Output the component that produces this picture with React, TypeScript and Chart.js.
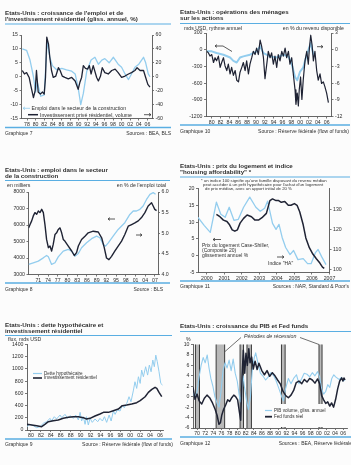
import React, { useEffect, useRef } from "react";
import { Chart, registerables } from "chart.js";

Chart.register(...registerables);

const PAGE_W = 351;
const PAGE_H = 465;
const FONT = '"Liberation Sans", Arial, Helvetica, sans-serif';
const DARK = "#1f2334";
const LIGHT = "#93cdee";
const RULE = "#5aaee2";
const AXIS = "#555555";
const INK = "#2f2f2f";
const TICK_FONT = 5.2;

// ---------------- Graphique 7 : emploi construction / investissement résidentiel ----------------
const g7TickYears = [1978, 1980, 1982, 1984, 1986, 1988, 1990, 1992, 1994, 1996, 1998, 2000, 2002, 2004, 2006];
const g7TickLabels = ["78", "80", "82", "84", "86", "88", "90", "92", "94", "96", "98", "00", "02", "04", "06"];
const g7LeftTicks = [-15, -10, -5, 0, 5, 10, 15];
const g7RightTicks = [-60, -40, -20, 0, 20, 40, 60];
const g7EmpYears = [1976.9, 1977.9, 1978.7, 1979.5, 1980.0, 1980.4, 1981.2, 1982.0, 1982.7, 1983.3, 1983.9, 1984.9, 1986.1, 1987.2, 1988.4, 1989.2, 1989.9, 1990.5, 1991.1, 1991.9, 1992.9, 1993.8, 1994.6, 1995.4, 1996.1, 1997.1, 1998.1, 1999.2, 2000.0, 2000.8, 2001.6, 2002.3, 2003.1, 2004.0, 2005.1, 2005.6, 2006.2, 2006.6];
const g7EmpValues = [10, 9.5, 6, 0, -5.5, -2, -7, -6.5, 13, 7, 4, 2.5, 3, 2.5, 2, 1, -4, -10, -6, 2, 6, 7, 4.5, 6, 6.5, 5, 7, 4.5, 3.4, 1, -1, 1, 3.4, 4.5, 7, 5, 1, 0];
const g7InvYears = [1976.9, 1977.4, 1977.9, 1978.5, 1978.9, 1979.5, 1979.9, 1980.2, 1980.6, 1981.1, 1981.6, 1982.0, 1982.3, 1982.6, 1983.0, 1983.3, 1983.7, 1984.1, 1984.7, 1985.3, 1985.7, 1986.2, 1986.8, 1987.6, 1988.4, 1989.2, 1989.9, 1990.3, 1990.7, 1991.1, 1991.6, 1992.1, 1992.5, 1992.9, 1993.4, 1994.2, 1994.6, 1995.1, 1995.5, 1996.1, 1996.9, 1997.7, 1998.5, 1999.2, 2000.0, 2000.8, 2001.6, 2002.3, 2003.1, 2003.6, 2004.3, 2005.1, 2005.6, 2006.1, 2006.6];
const g7InvValues = [9, 4, 6, -1, -13, -30, -20, 9, -22, -25, -22, -25, -1, 57, 47, 28, 9, -1, 1, 13, 9, 1, -1, -3, -1, -6, -18, -8, -1, 16, 12, 11, 16, 4, 16, -1, -6, 1, 13, 6, 4, 9, 11, 6, -1, 1, 4, 6, 9, 13, 9, 9, -1, -11, -15];

// ---------------- Graphique 10 : opérations des ménages sur les actions ----------------
const g10TickYears = [1980, 1982, 1984, 1986, 1988, 1990, 1992, 1994, 1996, 1998, 2000, 2002, 2004, 2006];
const g10TickLabels = ["80", "82", "84", "86", "88", "90", "92", "94", "96", "98", "00", "02", "04", "06"];
const g10LeftTicks = [-1200, -900, -600, -300, 0, 300];
const g10RightTicks = [-12, -9, -6, -3, 0, 3];
const g10FlowYears = [
  1978.9, 1979.25, 1979.6, 1980.0, 1980.4, 1980.75, 1981.1, 1981.5, 1981.9, 1982.25,
  1982.65, 1983.0, 1983.4, 1983.75, 1984.15, 1984.5, 1984.9, 1985.3, 1985.65, 1986.05,
  1986.4, 1986.8, 1987.15, 1987.55, 1987.9, 1988.3, 1988.65, 1989.05, 1989.4, 1989.8,
  1990.15, 1990.55, 1990.95, 1991.3, 1991.7, 1992.05, 1992.45, 1992.8, 1993.2, 1993.55,
  1993.95, 1994.3, 1994.7, 1995.05, 1995.45, 1995.85, 1996.2, 1996.6, 1996.95, 1997.35,
  1997.7, 1998.1, 1998.45, 1998.85, 1999.05, 1999.35, 1999.6, 1999.8, 2000.1, 2000.4,
  2000.7, 2001.1, 2001.5, 2001.85, 2002.1, 2002.4, 2002.7, 2003.0, 2003.35, 2003.75,
  2004.1, 2004.5, 2004.85, 2005.25, 2005.6, 2006.0, 2006.4,
];
const g10FlowValues = [
  -29, -58, -115, -87, -230, -144, -200, -115, -317, -230,
  -144, -288, -375, -260, -433, -317, -460, -375, -548, -577,
  -404, -317, -230, -375, -200, -433, -260, -144, -29, -87,
  29, -87, 173, 58, -144, -519, -260, -29, -144, -58,
  -260, -115, -317, -87, -200, -29, -115, 29, -144, -29,
  -260, -144, -433, -721, -981, -779, -1010, -721, -490, -894,
  -548, -200, -29, -260, 29, 260, 87, -200, -29, -375,
  -548, -433, -606, -577, -664, -779, -952,
];
const g10RatioYears = [1978.9, 1980.0, 1981.1, 1982.65, 1984.15, 1984.9, 1985.65, 1986.4, 1987.15, 1988.65, 1990.15, 1990.95, 1991.7, 1993.2, 1994.7, 1996.2, 1997.35, 1998.1, 1998.85, 1999.35, 1999.95, 2000.7, 2001.5, 2002.4, 2003.0];
const g10RatioValues = [-0.3, -0.3, -0.6, -0.9, -1.4, -2.0, -2.3, -1.4, -1.2, -0.9, -0.3, 0.6, -0.6, -1.2, -1.4, -0.9, -1.2, -2.6, -4.9, -5.5, -4.0, -3.2, -0.9, 1.2, -0.9];

// ---------------- Graphique 8 : emploi dans la construction ----------------
const g8TickYears = [1971, 1974, 1977, 1980, 1983, 1986, 1989, 1992, 1995, 1998, 2001, 2004, 2007];
const g8TickLabels = ["71", "74", "77", "80", "83", "86", "89", "92", "95", "98", "01", "04", "07"];
const g8LeftTicks = [3000, 4000, 5000, 6000, 7000, 8000];
const g8RightTicks = [4.0, 4.5, 5.0, 5.5, 6.0];
const g8LevelYears = [1968.0, 1969.45, 1971.0, 1972.55, 1973.55, 1974.1, 1975.1, 1976.15, 1977.15, 1978.7, 1980.25, 1981.3, 1982.3, 1983.35, 1984.35, 1985.9, 1987.45, 1989.0, 1990.0, 1991.05, 1991.75, 1992.6, 1994.1, 1995.65, 1997.7, 1999.25, 2000.3, 2001.3, 2002.35, 2003.35, 2004.4, 2005.45, 2006.45, 2007.2];
const g8LevelValues = [3610, 3710, 3810, 4010, 4150, 4070, 3610, 3710, 4070, 4420, 4520, 4420, 4110, 4270, 4620, 4920, 5170, 5330, 5230, 4820, 4720, 4920, 5330, 5730, 6140, 6640, 6850, 6850, 6950, 7150, 7550, 7860, 7960, 7860];
const g8ShareYears = [1968.0, 1968.45, 1968.95, 1969.45, 1969.95, 1970.5, 1971.0, 1971.5, 1972.05, 1972.55, 1973.05, 1973.55, 1974.1, 1974.6, 1975.1, 1975.6, 1976.15, 1976.65, 1977.15, 1977.7, 1978.2, 1978.7, 1979.2, 1980.25, 1981.3, 1982.1, 1982.8, 1983.35, 1984.35, 1985.4, 1986.4, 1987.95, 1989.5, 1990.55, 1991.35, 1992.05, 1992.8, 1993.6, 1994.65, 1995.65, 1996.7, 1997.7, 1998.75, 1999.8, 2000.8, 2001.85, 2002.85, 2003.9, 2004.9, 2005.95, 2006.45, 2006.95, 2007.5];
const g8ShareValues = [5.13, 5.21, 5.30, 5.42, 5.50, 5.46, 5.54, 5.50, 5.58, 5.50, 5.21, 4.85, 4.65, 4.69, 4.57, 4.73, 4.97, 5.01, 5.09, 5.13, 5.01, 4.85, 4.81, 4.69, 4.57, 4.46, 4.53, 4.69, 4.85, 4.93, 5.01, 5.05, 5.03, 4.89, 4.65, 4.40, 4.36, 4.44, 4.57, 4.69, 4.81, 4.97, 5.17, 5.21, 5.25, 5.30, 5.38, 5.50, 5.66, 5.74, 5.66, 5.58, 5.55];

// ---------------- Graphique 11 : prix du logement et indice HA ----------------
const g11TickYears = [2000.5, 2001.5, 2002.5, 2003.5, 2004.5, 2005.5, 2006.5, 2007.5];
const g11TickLabels = ["2000", "2001", "2002", "2003", "2004", "2005", "2006", "2007"];
const g11LeftTicks = [-5, 0, 5, 10, 15, 20];
const g11RightTicks = [100, 110, 120, 130];
const g11PriceYears = [2001.05, 2001.25, 2001.45, 2001.65, 2001.8, 2001.95, 2002.1, 2002.25, 2002.4, 2002.6, 2002.8, 2003.05, 2003.25, 2003.45, 2003.65, 2003.9, 2004.1, 2004.25, 2004.45, 2004.6, 2004.75, 2004.95, 2005.15, 2005.3, 2005.5, 2005.65, 2005.8, 2006.0, 2006.15, 2006.35, 2006.55, 2006.75, 2006.95, 2007.1, 2007.2];
const g11PriceValues = [12.3, 11.6, 10.6, 10.2, 9.2, 7.7, 7.3, 7.7, 9.7, 11.1, 12.1, 11.6, 10.6, 10.6, 11.3, 12.6, 16.4, 16.9, 16.4, 16.4, 15.9, 16.1, 15.0, 15.0, 15.5, 15.0, 13.1, 9.2, 5.3, 2.4, 0.5, -0.9, -2.2, -3.4, -3.8];
const g11HaiYears = [2000.0, 2000.35, 2000.7, 2001.05, 2001.3, 2001.55, 2001.78, 2002.05, 2002.3, 2002.6, 2002.95, 2003.3, 2003.55, 2003.8, 2003.97, 2004.25, 2004.45, 2004.62, 2004.8, 2005.0, 2005.25, 2005.45, 2005.7, 2006.0, 2006.25, 2006.45, 2006.7, 2006.85, 2007.05, 2007.3];
const g11HaiValues = [126, 122, 118.5, 133.5, 127.5, 126, 131, 124.5, 125, 131, 136, 131, 129, 130.5, 134, 123, 120, 122.5, 116, 111, 107.5, 109.5, 105, 105.5, 103, 103, 108.5, 110, 106.5, 102.5];

// ---------------- Graphique 9 : dette hypothécaire et investissement résidentiel ----------------
const g9TickYears = [1980, 1982, 1984, 1986, 1988, 1990, 1992, 1994, 1996, 1998, 2000, 2002, 2004, 2006];
const g9TickLabels = ["80", "82", "84", "86", "88", "90", "92", "94", "96", "98", "00", "02", "04", "06"];
const g9Ticks = [0, 200, 400, 600, 800, 1000, 1200, 1400];
const g9InvYears = [1979.2, 1980.15, 1981.15, 1982.15, 1982.8, 1983.5, 1984.5, 1985.5, 1986.5, 1987.55, 1988.55, 1989.55, 1990.55, 1991.2, 1991.9, 1992.9, 1993.9, 1994.6, 1995.6, 1996.6, 1997.6, 1998.4, 1999.3, 2000.3, 2001.3, 2002.0, 2003.0, 2003.65, 2004.35, 2005.0, 2005.35, 2005.8, 2006.35];
const g9InvValues = [93, 82, 71, 55, 93, 136, 153, 164, 191, 207, 218, 218, 202, 180, 191, 229, 262, 289, 289, 316, 343, 398, 409, 425, 447, 480, 545, 616, 665, 698, 681, 616, 545];
const g9DebtYears = [
  1979.2, 1979.8, 1980.45, 1981.15, 1981.8, 1982.5, 1983.15, 1983.85, 1984.15, 1984.7,
  1985.15, 1985.85, 1986.2, 1986.85, 1987.4, 1987.85, 1988.55, 1989.0, 1989.55, 1989.9,
  1990.2, 1990.55, 1990.9, 1991.2, 1991.55, 1991.9, 1992.35, 1992.9, 1993.45, 1993.9,
  1994.4, 1994.8, 1995.25, 1995.75, 1996.15, 1996.6, 1996.95, 1997.4, 1997.95, 1998.4,
  1998.8, 1999.3, 1999.75, 2000.15, 2000.65, 2000.95, 2001.3, 2001.65, 2002.0, 2002.3,
  2002.65, 2003.1, 2003.5, 2003.85, 2004.2, 2004.55, 2004.85, 2005.15, 2005.45, 2005.8,
  2006.15, 2006.5,
];
const g9DebtValues = [
  55, 93, 71, 38, 55, 109, 136, 191, 147, 218,
  180, 245, 202, 256, 191, 234, 191, 245, 164, 289,
  147, 218, 93, 218, 82, 191, 125, 180, 136, 191,
  147, 218, 125, 245, 147, 311, 256, 327, 311, 409,
  365, 436, 545, 463, 654, 790, 681, 872, 763, 981,
  872, 1036, 899, 1063, 954, 1145, 1036, 1226, 1117, 954,
  763, 736,
];

// ---------------- Graphique 12 : PIB et Fed funds ----------------
const g12TickYears = [1970, 1972, 1974, 1976, 1978, 1980, 1982, 1984, 1986, 1988, 1990, 1992, 1994, 1996, 1998, 2000, 2002, 2004, 2006];
const g12TickLabels = ["70", "72", "74", "76", "78", "80", "82", "84", "86", "88", "90", "92", "94", "96", "98", "00", "02", "04", "06"];
const g12Ticks = [-6, -4, -2, 0, 2, 4, 6, 8, 10];
const g12RecStart = [1969.6, 1974.7, 1980.6, 1982.3, 1990.8, 2000.05];
const g12RecEnd = [1970.6, 1976.8, 1981.45, 1983.4, 1991.7, 2000.8];
const g12FedYears = [
  1969.0, 1969.5, 1970.0, 1970.5, 1971.15, 1971.8, 1972.45, 1973.1, 1973.8, 1974.45,
  1974.95, 1975.4, 1975.75, 1976.1, 1976.55, 1977.05, 1977.55, 1978.05, 1978.55, 1979.05,
  1979.5, 1980.0, 1980.45, 1980.75, 1981.1, 1981.4, 1981.75, 1982.05, 1982.4, 1982.75,
  1983.05, 1983.45, 1983.85, 1984.3, 1984.8, 1985.25, 1985.95, 1986.6, 1987.25, 1987.9,
  1988.55, 1989.2, 1989.85, 1990.55, 1991.2, 1991.85, 1992.5, 1993.15, 1993.8, 1994.45,
  1995.1, 1995.8, 1996.45, 1997.1, 1997.75, 1998.4, 1999.05, 1999.7, 2000.2, 2000.7,
  2001.2, 2001.7, 2002.2, 2002.7, 2003.15, 2003.65, 2004.15, 2004.65, 2005.15, 2005.65,
  2005.95, 2006.2, 2006.45,
];
const g12FedValues = [
  1.8, -0.5, 0.5, -0.8, -1.4, -0.3, 0.3, -0.2, -1.2, -2.4,
  -3.6, -5.3, -5.0, -3.5, -2.4, -1.6, -0.6, -0.9, -0.2, 0.3,
  0.0, -0.6, -3.0, -4.5, 4.0, 8.9, 4.5, 8.3, 6.0, 9.2,
  6.5, 7.6, 5.3, 6.8, 5.2, 6.4, 5.0, 4.2, 5.0, 3.9,
  4.6, 4.0, 3.2, 2.4, 1.0, 0.2, -0.2, 0.3, 1.2, 2.7,
  3.0, 2.5, 3.3, 2.8, 3.5, 3.2, 2.6, 3.4, 2.5, 0.2,
  -0.6, -1.3, -1.0, -1.8, -1.2, -2.0, -0.5, 1.5, 3.0, 3.6,
  3.0, 3.6, 3.2,
];
const g12GdpYears = [
  1969.0, 1969.5, 1970.0, 1970.5, 1971.0, 1971.5, 1972.0, 1972.5, 1972.95, 1973.4,
  1973.9, 1974.4, 1974.9, 1975.4, 1975.9, 1976.4, 1976.9, 1977.4, 1977.9, 1978.4,
  1978.9, 1979.4, 1979.9, 1980.35, 1980.7, 1981.0, 1981.35, 1981.65, 1982.15, 1982.65,
  1983.15, 1983.6, 1984.1, 1984.45, 1984.9, 1985.6, 1986.2, 1986.9, 1987.55, 1988.2,
  1988.9, 1989.5, 1990.2, 1990.85, 1991.3, 1991.8, 1992.5, 1993.15, 1993.8, 1994.5,
  1995.1, 1995.8, 1996.4, 1997.1, 1997.75, 1998.4, 1999.05, 1999.7, 2000.2, 2000.7,
  2001.2, 2001.7, 2002.2, 2002.7, 2003.2, 2003.7, 2004.15, 2004.65, 2005.1, 2005.6,
  2006.0, 2006.45,
];
const g12GdpValues = [
  1.0, -0.3, 1.0, 3.8, 6.0, 7.5, 6.5, 8.0, 5.5, 3.5,
  2.0, 0.0, -1.2, -2.0, 1.0, 5.0, 6.5, 5.5, 7.0, 5.0,
  7.2, 4.5, 3.0, 0.5, -1.0, 1.5, 4.0, 2.0, -0.5, -2.5,
  0.0, 5.0, 7.5, 8.4, 6.8, 4.5, 4.0, 3.2, 3.8, 4.6,
  4.0, 3.0, 1.5, 0.0, -0.8, 1.5, 3.5, 2.5, 3.5, 4.2,
  2.5, 3.5, 4.5, 4.3, 3.8, 4.6, 4.0, 4.8, 3.8, 1.5,
  0.5, 1.0, 2.3, 1.8, 3.5, 4.2, 3.8, 3.5, 3.3, 3.7,
  3.0, 3.3,
];

// ---------------- helpers ----------------
function series(xs: number[], ys: number[], color: string, width: number, yAxisID: string) {
  return {
    type: "line",
    data: xs.map((x, i) => ({ x, y: ys[i] })),
    borderColor: color,
    backgroundColor: color,
    borderWidth: width,
    pointRadius: 0,
    pointHoverRadius: 0,
    fill: false,
    tension: 0,
    xAxisID: "x",
    yAxisID,
    borderJoinStyle: "round",
  };
}

const tickFont = { family: FONT, size: TICK_FONT };
const axisGrid = { display: true, drawOnChartArea: false, drawTicks: true, tickLength: 2, color: AXIS, lineWidth: 0.8 };
const axisBorder = { display: true, color: AXIS, width: 0.9 };

function xScale(min: number, max: number, at: number[], labels: string[], height: number) {
  return {
    type: "linear",
    position: "bottom",
    min,
    max,
    afterBuildTicks: (s: any) => {
      s.ticks = at.map((v) => ({ value: v }));
    },
    afterFit: (s: any) => {
      s.height = height;
    },
    ticks: {
      autoSkip: false,
      maxRotation: 0,
      minRotation: 0,
      padding: 0.5,
      font: tickFont,
      color: INK,
      callback: (_v: any, i: number) => labels[i],
    },
    grid: axisGrid,
    border: axisBorder,
  };
}

function yScale(position: string, min: number, max: number, at: number[], width: number, fmt?: (v: number) => string) {
  return {
    type: "linear",
    position,
    min,
    max,
    afterBuildTicks: (s: any) => {
      s.ticks = at.map((v) => ({ value: v }));
    },
    afterFit: (s: any) => {
      s.width = width;
    },
    ticks: {
      autoSkip: false,
      padding: 1.5,
      font: tickFont,
      color: INK,
      callback: (v: number) => (fmt ? fmt(v) : String(v)),
    },
    grid: axisGrid,
    border: axisBorder,
  };
}

function options(padding: any, scales: any) {
  return {
    responsive: false,
    maintainAspectRatio: false,
    animation: false,
    devicePixelRatio: 1,
    events: [],
    layout: { padding },
    plugins: { legend: { display: false }, tooltip: { enabled: false }, title: { display: false } },
    scales,
  };
}

const buildG7 = () => ({
  type: "line",
  data: {
    datasets: [
      series(g7InvYears, g7InvValues, DARK, 1.3, "y2"),
      series(g7EmpYears, g7EmpValues, LIGHT, 1.3, "y"),
    ],
  },
  options: options({ left: 0, right: 0, top: 7, bottom: 4.5 }, {
    x: xScale(1976.72, 2007.07, g7TickYears, g7TickLabels, 9),
    y: yScale("left", -15, 15, g7LeftTicks, 21.5),
    y2: yScale("right", -60, 60, g7RightTicks, 23),
  }),
});

const buildG10 = () => ({
  type: "line",
  data: {
    datasets: [
      series(g10FlowYears, g10FlowValues, DARK, 1.2, "y"),
      series(g10RatioYears, g10RatioValues, LIGHT, 2, "y2"),
    ],
  },
  options: options({ left: 0, right: 0, top: 7, bottom: 3.5 }, {
    x: xScale(1978.7, 2007.1, g10TickYears, g10TickLabels, 8),
    y: yScale("left", -1200, 300, g10LeftTicks, 30),
    y2: yScale("right", -12, 3, g10RightTicks, 19.5),
  }),
});

const buildG8 = () => ({
  type: "line",
  data: {
    datasets: [
      series(g8ShareYears, g8ShareValues, DARK, 1.4, "y2"),
      series(g8LevelYears, g8LevelValues, LIGHT, 1.3, "y"),
    ],
  },
  options: options({ left: 0, right: 0, top: 7, bottom: 1.5 }, {
    x: xScale(1967.97, 2007.94, g8TickYears, g8TickLabels, 8),
    y: yScale("left", 3000, 8000, g8LeftTicks, 28.5),
    y2: yScale("right", 4, 6, g8RightTicks, 17, (v) => v.toFixed(1)),
  }),
});

const buildG11 = () => ({
  type: "line",
  data: {
    datasets: [
      series(g11PriceYears, g11PriceValues, DARK, 1.5, "y"),
      series(g11HaiYears, g11HaiValues, LIGHT, 1.3, "y2"),
    ],
  },
  options: options({ left: 0, right: 0, top: 6.5, bottom: 1.5 }, {
    x: xScale(2000, 2007.5, g11TickYears, g11TickLabels, 8),
    y: yScale("left", -5, 20, g11LeftTicks, 22),
    y2: yScale("right", 98.6, 140.3, g11RightTicks, 21.5),
  }),
});

const buildG9 = () => ({
  type: "line",
  data: {
    datasets: [
      series(g9InvYears, g9InvValues, DARK, 1.5, "y"),
      series(g9DebtYears, g9DebtValues, LIGHT, 1, "y"),
    ],
  },
  options: options({ left: 0, right: 12, top: 6.5, bottom: 2 }, {
    x: xScale(1979.2, 2006.6, g9TickYears, g9TickLabels, 8),
    y: yScale("left", 0, 1400, g9Ticks, 27),
  }),
});

const recessionPlugin = {
  id: "recessions",
  beforeDatasetsDraw(chart: any) {
    const { ctx, chartArea, scales } = chart;
    const xs = scales.x;
    ctx.save();
    g12RecStart.forEach((s, i) => {
      const x1 = xs.getPixelForValue(s);
      const x2 = xs.getPixelForValue(g12RecEnd[i]);
      ctx.fillStyle = "rgba(140,140,140,0.6)";
      ctx.fillRect(x1, chartArea.top, x2 - x1, chartArea.bottom - chartArea.top);
      ctx.strokeStyle = "#3a3a3a";
      ctx.lineWidth = 1;
      ctx.beginPath();
      ctx.moveTo(x1, chartArea.top);
      ctx.lineTo(x1, chartArea.bottom);
      ctx.moveTo(x2, chartArea.top);
      ctx.lineTo(x2, chartArea.bottom);
      ctx.stroke();
    });
    // white legend box (covers bars under the legend)
    ctx.fillStyle = "#fcfcfc";
    ctx.fillRect(chartArea.left + 69, chartArea.bottom - 24, 62, 23);
    ctx.restore();
  },
};

const buildG12 = () => ({
  type: "line",
  data: {
    datasets: [
      series(g12FedYears, g12FedValues, DARK, 1.5, "y"),
      series(g12GdpYears, g12GdpValues, LIGHT, 1.1, "y"),
    ],
  },
  options: options({ left: 0, right: 4, top: 6.5, bottom: 4 }, {
    x: xScale(1969.0, 2006.95, g12TickYears, g12TickLabels, 8),
    y: yScale("left", -6, 10, g12Ticks, 17),
  }),
  plugins: [recessionPlugin],
});

function ChartCanvas(props: { left: number; top: number; width: number; height: number; build: () => any }) {
  const { left, top, width, height, build } = props;
  const ref = useRef<HTMLCanvasElement | null>(null);
  useEffect(() => {
    if (!ref.current) return;
    const chart = new Chart(ref.current, build() as any);
    return () => chart.destroy();
  }, [build]);
  return (
    <canvas
      ref={ref}
      width={width}
      height={height}
      style={{ position: "absolute", left, top, width, height }}
    />
  );
}

function Txt(props: { x: number; y: number; size: number; text: string; bold?: boolean; italic?: boolean; right?: boolean; color?: string }) {
  const { x, y, size, text, bold, italic, right, color } = props;
  const style: React.CSSProperties = {
    position: "absolute",
    top: y - size * 0.6,
    fontFamily: FONT,
    fontSize: size,
    lineHeight: `${size * 1.2}px`,
    fontWeight: bold ? 700 : 400,
    fontStyle: italic ? "italic" : "normal",
    color: color || INK,
    whiteSpace: "nowrap",
  };
  if (right) style.right = PAGE_W - x;
  else style.left = x;
  return <div style={style}>{text}</div>;
}

function Arrow(props: { x1: number; x2: number; y: number; dir: "left" | "right"; color?: string }) {
  const { x1, x2, y, dir, color } = props;
  const c = color || "#333";
  const tip = dir === "left" ? x1 : x2;
  const back = dir === "left" ? tip + 2 : tip - 2;
  return (
    <g stroke={c} strokeWidth={0.8} fill="none">
      <line x1={x1} y1={y} x2={x2} y2={y} />
      <polyline points={`${back},${y - 1.4} ${tip},${y} ${back},${y + 1.4}`} />
    </g>
  );
}

function Rule(props: { x1: number; x2: number; y: number; w?: number }) {
  return <line x1={props.x1} x2={props.x2} y1={props.y} y2={props.y} stroke={RULE} strokeWidth={props.w || 1} />;
}

const TITLE = 6.2;
const FOOT = 5;
const SMALL = 5.2;

export default function App() {
  return (
    <div
      style={{
        position: "absolute",
        left: 0,
        top: 0,
        width: PAGE_W,
        height: PAGE_H,
        background: "#fcfcfc",
        overflow: "hidden",
      }}
    >
      <ChartCanvas left={0} top={28} width={175} height={104} build={buildG7} />
      <ChartCanvas left={176} top={26} width={175} height={102} build={buildG10} />
      <ChartCanvas left={0} top={185} width={175} height={99} build={buildG8} />
      <ChartCanvas left={176} top={182} width={175} height={100} build={buildG11} />
      <ChartCanvas left={0} top={338} width={175} height={102} build={buildG9} />
      <ChartCanvas left={176} top={338} width={175} height={102} build={buildG12} />

      <svg width={PAGE_W} height={PAGE_H} style={{ position: "absolute", left: 0, top: 0, pointerEvents: "none" }}>
        <Rule x1={5} x2={171} y={24} />
        <Rule x1={5} x2={171} y={127.5} w={1.5} />
        <Rule x1={180} x2={350} y={23.5} />
        <Rule x1={180} x2={350} y={125} w={1.5} />
        <Rule x1={5} x2={170} y={180.5} />
        <Rule x1={5} x2={170} y={283} w={1.5} />
        <Rule x1={180} x2={350} y={177} />
        <Rule x1={180} x2={350} y={281} w={1.5} />
        <Rule x1={5} x2={172} y={335.5} />
        <Rule x1={5} x2={172} y={439} w={1.5} />
        <Rule x1={180} x2={351} y={331.5} />
        <Rule x1={180} x2={351} y={437} w={1.5} />

        {/* Graphique 7 legend marks */}
        <Arrow x1={23} x2={30} y={108.3} dir="left" color={LIGHT} />
        <line x1={28} x2={38} y1={114.7} y2={114.7} stroke={DARK} strokeWidth={1.5} />
        <Arrow x1={144} x2={151} y={114.7} dir="right" />

        {/* Graphique 10 arrows */}
        <Arrow x1={215} x2={223} y={46} dir="left" />
        <line x1={223} y1={46} x2={232} y2={51.5} stroke="#333" strokeWidth={0.8} />
        <Arrow x1={317} x2={323} y={46.7} dir="right" />

        {/* Graphique 8 arrows */}
        <Arrow x1={108} x2={115} y={219} dir="left" />
        <Arrow x1={136} x2={142} y={235} dir="right" />

        {/* Graphique 11 arrows */}
        <Arrow x1={213} x2={221} y={239.5} dir="left" />
        <Arrow x1={277} x2={284} y={257} dir="right" />

        {/* Graphique 9 legend marks */}
        <line x1={33} x2={42} y1={373.5} y2={373.5} stroke={LIGHT} strokeWidth={1.2} />
        <line x1={33} x2={42} y1={378} y2={378} stroke={DARK} strokeWidth={1.6} />

        {/* Graphique 12 legend marks and leader lines */}
        <line x1={265} x2={272} y1={410.5} y2={410.5} stroke={LIGHT} strokeWidth={1.2} />
        <line x1={265} x2={272} y1={416.7} y2={416.7} stroke={DARK} strokeWidth={1.8} />
        <line x1={241} y1={337.5} x2={225} y2={351.5} stroke="#333" strokeWidth={0.7} />
        <line x1={300} y1={337.5} x2={319} y2={344.5} stroke="#333" strokeWidth={0.7} />
      </svg>

      {/* Graphique 7 */}
      <Txt x={5} y={12.5} size={TITLE} bold text="Etats-Unis : croissance de l'emploi et de" />
      <Txt x={5} y={19} size={TITLE} bold text="l'investissement résidentiel (gliss. annuel, %)" />
      <Txt x={31.5} y={108.3} size={SMALL} text="Emploi dans le secteur de la construction" />
      <Txt x={40} y={114.7} size={SMALL} text="Investissement privé résidentiel, volume" />
      <Txt x={5} y={133} size={FOOT} text="Graphique 7" />
      <Txt x={171} y={133} size={FOOT} right text="Sources : BEA, BLS" />

      {/* Graphique 10 */}
      <Txt x={180} y={12} size={TITLE} bold text="Etats-Unis : opérations des ménages" />
      <Txt x={180} y={18} size={TITLE} bold text="sur les actions" />
      <Txt x={184} y={28.5} size={SMALL} text="mds USD, rythme annuel" />
      <Txt x={344} y={28.5} size={SMALL} right text="en % du revenu disponible" />
      <Txt x={180} y={130.5} size={FOOT} text="Graphique 10" />
      <Txt x={349} y={130.5} size={FOOT} right text="Source : Réserve fédérale (flow of funds)" />

      {/* Graphique 8 */}
      <Txt x={5} y={169.5} size={TITLE} bold text="Etats-Unis : emploi dans le secteur" />
      <Txt x={5} y={176} size={TITLE} bold text="de la construction" />
      <Txt x={7} y={185} size={SMALL} text="en milliers" />
      <Txt x={166} y={185} size={SMALL} right text="en % de l'emploi total" />
      <Txt x={5} y={288.5} size={FOOT} text="Graphique 8" />
      <Txt x={163} y={288.5} size={FOOT} right text="Source : BLS" />

      {/* Graphique 11 */}
      <Txt x={180} y={165.5} size={TITLE} bold text="Etats-Unis : prix du logement et indice" />
      <Txt x={180} y={171.5} size={TITLE} bold text={'"housing affordability" *'} />
      <Txt x={201} y={180.5} size={4.3} text="* un indice 100 signifie qu'une famille disposant du revenu médian" />
      <Txt x={203} y={184.5} size={4.3} text="peut accéder à un prêt hypothécaire pour l'achat d'un logement" />
      <Txt x={205} y={188.5} size={4.3} text="de prix médian, avec un apport initial de 20 %" />
      <Txt x={202} y={244.5} size={5} text="Prix du logement Case-Shiller," />
      <Txt x={202} y={249.5} size={5} text="(Composite 20)" />
      <Txt x={202} y={254.5} size={5} text="glissement annuel %" />
      <Txt x={268} y={263} size={5} text={'Indice "HA"'} />
      <Txt x={180} y={285.5} size={FOOT} text="Graphique 11" />
      <Txt x={349} y={285.5} size={FOOT} right text="Sources : NAR, Standard & Poor's" />

      {/* Graphique 9 */}
      <Txt x={5} y={325} size={TITLE} bold text="Etats-Unis : dette hypothécaire et" />
      <Txt x={5} y={331} size={TITLE} bold text="investissement résidentiel" />
      <Txt x={8} y={339.5} size={SMALL} text="flux, mds USD" />
      <Txt x={44} y={373.5} size={4.6} text="Dette hypothécaire" />
      <Txt x={44} y={378} size={4.6} text="Investissement résidentiel" />
      <Txt x={5} y={444} size={FOOT} text="Graphique 9" />
      <Txt x={173} y={444} size={FOOT} right text="Source : Réserve fédérale (flow of funds)" />

      {/* Graphique 12 */}
      <Txt x={180} y={326} size={TITLE} bold text="Etats-Unis : croissance du PIB et Fed funds" />
      <Txt x={186} y={339} size={SMALL} text="%" />
      <Txt x={244} y={336.5} size={5.3} italic text="Périodes de récession" />
      <Txt x={274} y={410.5} size={4.6} text="PIB volume, gliss. annuel" />
      <Txt x={274} y={416.7} size={4.6} text="Fed funds réel" />
      <Txt x={180} y={442.5} size={FOOT} text="Graphique 12" />
      <Txt x={352} y={442.5} size={FOOT} right text="Sources : BEA, Réserve fédérale" />
    </div>
  );
}
